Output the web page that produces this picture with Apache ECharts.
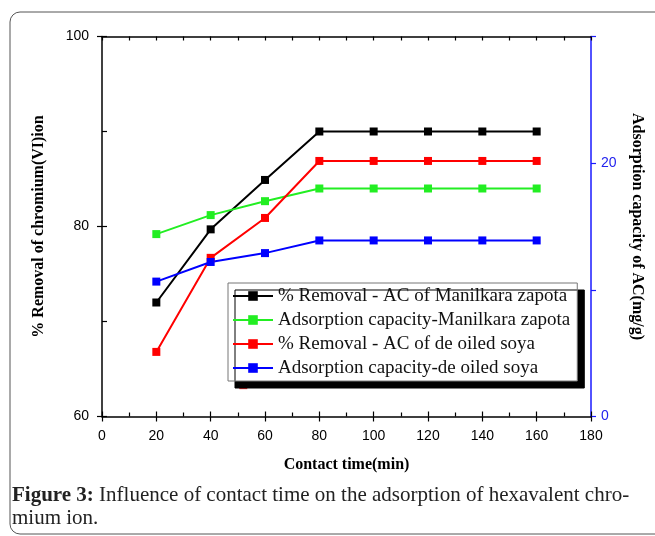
<!DOCTYPE html>
<html>
<head>
<meta charset="utf-8">
<script src="https://cdn.jsdelivr.net/npm/echarts@6/dist/echarts.min.js"></script>
<style>
  html, body { margin: 0; padding: 0; background: #fff; }
  #chart { width: 655px; height: 536px; }
</style>
</head>
<body>
<div id="chart"></div>
<script>
// contact time (min)
const timeMin = [20, 40, 60, 80, 100, 120, 140, 160];
// % removal (left axis)
const removalZapota = [72.0, 79.7, 84.9, 90.0, 90.0, 90.0, 90.0, 90.0];
const removalSoya = [66.8, 76.7, 80.9, 86.9, 86.9, 86.9, 86.9, 86.9];
// adsorption capacity mg/g (right axis)
const capacityZapota = [14.4, 15.9, 17.0, 18.0, 18.0, 18.0, 18.0, 18.0];
const capacitySoya = [10.65, 12.2, 12.9, 13.9, 13.9, 13.9, 13.9, 13.9];
// stray red marker partly hidden under the legend
const strayRed = [[52, 63.3]];

const seriesNames = [
    '% Removal - AC of Manilkara zapota',
    'Adsorption capacity-Manilkara zapota',
    '% Removal - AC of de oiled soya',
    'Adsorption capacity-de oiled soya'
];
const rightTickLabels = ['0', '20'];

const serif = "'Liberation Serif', 'Times New Roman', serif";
const sans = "'Liberation Sans', Arial, sans-serif";

const zip = (xs, ys) => xs.map((x, i) => [x, ys[i]]);

const chart = echarts.init(document.getElementById('chart'));

const gridPos = { left: 102, right: 64, top: 36.5, bottom: 119.5, containLabel: false };

const lineSeries = (name, color, data, yIdx) => ({
    name: name,
    type: 'line',
    xAxisIndex: 0,
    yAxisIndex: yIdx,
    data: data,
    symbol: 'rect',
    symbolSize: 8,
    showSymbol: true,
    animation: false,
    lineStyle: { color: color, width: 2 },
    itemStyle: { color: color }
});

const option = {
    animation: false,
    backgroundColor: '#fff',
    grid: [
        Object.assign({}, gridPos),
        Object.assign({}, gridPos)
    ],
    legend: {
        data: seriesNames,
        orient: 'vertical',
        left: 228,
        top: 283,
        itemWidth: 40,
        itemHeight: 12,
        itemGap: 4,
        padding: [3, 7, 3, 4],
        backgroundColor: '#fff',
        borderColor: '#777',
        borderWidth: 1,
        shadowColor: '#000',
        shadowBlur: 0,
        shadowOffsetX: 7,
        shadowOffsetY: 7,
        selectedMode: false,
        textStyle: { fontFamily: serif, fontSize: 19, color: '#111', lineHeight: 20 }
    },
    xAxis: [
        {
            gridIndex: 0, type: 'value', position: 'bottom',
            min: 0, max: 180, interval: 20,
            name: 'Contact time(min)', nameLocation: 'middle', nameGap: 40,
            nameTextStyle: { fontFamily: serif, fontSize: 16, fontWeight: 'bold', color: '#000' },
            axisLine: { show: true, onZero: false, lineStyle: { color: '#000', width: 1.5 } },
            axisTick: { show: true, inside: false, length: 5, lineStyle: { color: '#000', width: 1.2 } },
            axisLabel: { fontFamily: sans, fontSize: 14, color: '#000', margin: 13 },
            splitLine: { show: false }
        },
        {
            gridIndex: 0, type: 'value', position: 'top',
            min: 0, max: 180, interval: 10,
            axisLine: { show: true, onZero: false, lineStyle: { color: '#000', width: 1.5 } },
            axisTick: { show: true, inside: true, length: 4, lineStyle: { color: '#000', width: 1.2 } },
            axisLabel: { show: false },
            splitLine: { show: false }
        },
        {
            gridIndex: 1, type: 'value', position: 'bottom',
            min: 0, max: 180, interval: 20,
            axisLine: { show: false, onZero: false },
            axisTick: { show: true, inside: true, length: 5, lineStyle: { color: '#000', width: 1.2 } },
            minorTick: { show: true, splitNumber: 2, length: 4, lineStyle: { color: '#000', width: 1.2 } },
            axisLabel: { show: false },
            splitLine: { show: false }
        }
    ],
    yAxis: [
        {
            gridIndex: 0, type: 'value', position: 'left',
            min: 60, max: 100, interval: 20,
            name: '% Removal of chromium(VI)ion', nameLocation: 'middle', nameGap: 55,
            nameTextStyle: { fontFamily: serif, fontSize: 16, fontWeight: 'bold', color: '#000' },
            axisLine: { show: true, onZero: false, lineStyle: { color: '#000', width: 1.5 } },
            axisTick: { show: true, inside: false, length: 5, lineStyle: { color: '#000', width: 1.2 } },
            axisLabel: { fontFamily: sans, fontSize: 14, color: '#000', margin: 13 },
            splitLine: { show: false }
        },
        {
            gridIndex: 0, type: 'value', position: 'right',
            min: 0, max: 30, interval: 10,
            name: 'Adsorption capacity of AC(mg/g)', nameLocation: 'middle', nameGap: 38, nameRotate: -90,
            nameTextStyle: { fontFamily: serif, fontSize: 16, fontWeight: 'bold', color: '#000' },
            axisLine: { show: true, onZero: false, lineStyle: { color: '#1a1aff', width: 1.5 } },
            axisTick: { show: true, inside: false, length: 5, lineStyle: { color: '#1a1aff', width: 1.2 } },
            axisLabel: {
                fontFamily: sans, fontSize: 14, color: '#2222ee', margin: 10,
                formatter: (v) => (rightTickLabels.indexOf(String(v)) >= 0 ? String(v) : '')
            },
            splitLine: { show: false }
        },
        {
            gridIndex: 1, type: 'value', position: 'left',
            min: 60, max: 100, interval: 20,
            axisLine: { show: false, onZero: false },
            axisTick: { show: true, inside: true, length: 5, lineStyle: { color: '#000', width: 1.2 } },
            minorTick: { show: true, splitNumber: 2, length: 5, lineStyle: { color: '#000', width: 1.2 } },
            axisLabel: { show: false },
            splitLine: { show: false }
        }
    ],
    graphic: [
        {
            type: 'rect',
            shape: { x: 10, y: 12, width: 700, height: 522, r: 10 },
            style: { fill: 'none', stroke: '#555', lineWidth: 1 },
            silent: true,
            z: -1
        },
        {
            type: 'text',
            left: 12,
            top: 484,
            style: {
                text: '{b|Figure 3:} Influence of contact time on the adsorption of hexavalent chro-\nmium ion.',
                fontFamily: serif,
                fontSize: 21,
                lineHeight: 23,
                fill: '#222',
                rich: {
                    b: { fontFamily: serif, fontSize: 21, fontWeight: 'bold', fill: '#222' }
                }
            }
        }
    ],
    series: [
        {
            name: 'stray',
            type: 'scatter',
            xAxisIndex: 0,
            yAxisIndex: 0,
            data: strayRed,
            symbol: 'rect',
            symbolSize: 8,
            itemStyle: { color: '#ff0000' },
            z: 1
        },
        lineSeries(seriesNames[0], '#000000', zip(timeMin, removalZapota), 0),
        lineSeries(seriesNames[1], '#22ee22', zip(timeMin, capacityZapota), 1),
        lineSeries(seriesNames[2], '#ff0000', zip(timeMin, removalSoya), 0),
        lineSeries(seriesNames[3], '#0000ff', zip(timeMin, capacitySoya), 1)
    ]
};

chart.setOption(option);
</script>
</body>
</html>
